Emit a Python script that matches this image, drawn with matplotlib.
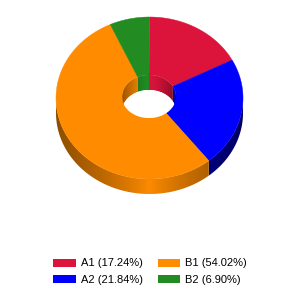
import numpy as np
import matplotlib
matplotlib.use("Agg")
import matplotlib.pyplot as plt
from matplotlib.patches import Polygon, Ellipse, Patch
from matplotlib.colors import to_rgb

labels = ["A1", "A2", "B1", "B2"]
values = [17.24, 21.84, 54.02, 6.90]
colors = ["#DC143C", "#0000FF", "#FF8C00", "#228B22"]

# geometry in pixel units (y goes down)
cx, cy, rx, ry = 149.5, 98.0, 93.5, 81.0
hcx, hcy, hrx, hry = 149.0, 96.5, 27.0, 21.5
depth = 15.0


def pt(th, x0, y0, ax_, ay_):
    t = np.radians(th)
    return x0 + ax_ * np.sin(t), y0 - ay_ * np.cos(t)


def gradient(ax, poly, c, x0, rad, k, p, dark=1.0):
    # horizontal shading image clipped to the wall polygon
    xs = np.linspace(x0 - rad, x0 + rad, 400)
    f = (1 - k * np.abs((xs - x0) / rad) ** p) * dark
    rgb = np.array(to_rgb(c))
    img = (f[:, None] * rgb[None, :])[None, :, :]
    ys = poly[:, 1]
    im = ax.imshow(img, extent=(x0 - rad, x0 + rad, ys.max() + 1, ys.min() - 1),
                   aspect="auto", interpolation="bilinear", zorder=1)
    patch = Polygon(poly, closed=True, facecolor="none", edgecolor="none")
    ax.add_patch(patch)
    im.set_clip_path(patch)


fig = plt.figure(figsize=(3, 3), dpi=100)
ax = fig.add_axes([0, 0, 1, 1])

total = sum(values)
bounds = np.concatenate([[0], np.cumsum(values) / total * 360])

# outer side wall (front half only)
for i, c in enumerate(colors):
    a0, a1 = max(bounds[i], 90), min(bounds[i + 1], 270)
    if a1 <= a0:
        continue
    th = np.linspace(a0, a1, 200)
    x, y = pt(th, cx, cy, rx, ry)
    poly = np.column_stack([np.r_[x, x[::-1]], np.r_[y, y[::-1] + depth]])
    gradient(ax, poly, c, cx, rx, 0.45, 0.8, 0.7 if c == "#0000FF" else 1.0)

# top face
for i, c in enumerate(colors):
    th = np.linspace(bounds[i], bounds[i + 1], 100)
    ox, oy = pt(th, cx, cy, rx, ry)
    ix, iy = pt(th[::-1], hcx, hcy, hrx, hry)
    ax.add_patch(Polygon(np.column_stack([np.r_[ox, ix], np.r_[oy, iy]]),
                         closed=True, facecolor=c, edgecolor=c, lw=0.3, zorder=2))

# inner wall (back half of the hole)
for i, c in enumerate(colors):
    for r0, r1 in [(0, 90), (270, 360)]:
        a0, a1 = max(bounds[i], r0), min(bounds[i + 1], r1)
        if a1 <= a0:
            continue
        th = np.linspace(a0, a1, 100)
        x, y = pt(th, hcx, hcy, hrx, hry)
        poly = np.column_stack([np.r_[x, x[::-1]], np.r_[y, y[::-1] + depth]])
        gradient(ax, poly, c, hcx, hrx, 0.4, 1.5)

hole = Ellipse((hcx, hcy + depth), 2 * hrx, 2 * hry, facecolor="white",
               edgecolor="none", zorder=3)
ax.add_patch(hole)
ring = Ellipse((hcx, hcy), 2 * hrx, 2 * hry, facecolor="none", edgecolor="none")
ax.add_patch(ring)
hole.set_clip_path(ring)

ax.set_xlim(0, 300)
ax.set_ylim(300, 0)
ax.axis("off")

handles = [Patch(facecolor=c, edgecolor="none") for c in colors]
names = ["%s (%.2f%%)" % (l, v) for l, v in zip(labels, values)]
ax.legend(handles, names, ncol=2, loc="center", bbox_to_anchor=(0.5, 0.095),
          frameon=False, prop={"family": "Liberation Sans", "size": 8},
          handlelength=2.0, handleheight=0.72, handletextpad=0.45,
          columnspacing=1.35, labelspacing=0.55, borderpad=0)

fig.savefig("out.png", dpi=100)
